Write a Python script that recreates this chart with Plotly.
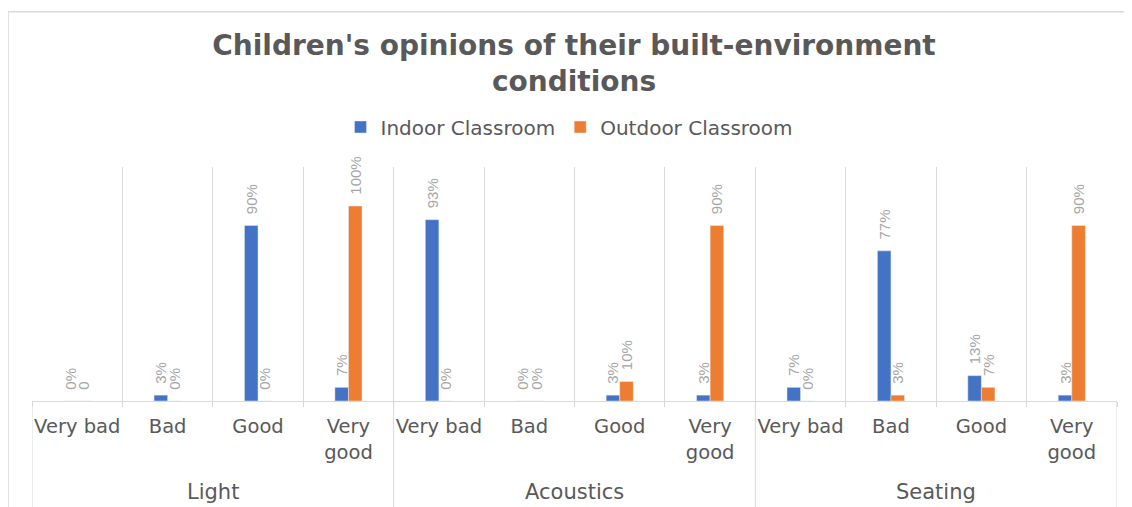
import plotly.graph_objects as go

groups = ["Light"] * 4 + ["Acoustics"] * 4 + ["Seating"] * 4
ratings = ["Very bad", "Bad", "Good", "Very<br>good"] * 3
indoor = [0, 3, 90, 7, 93, 0, 3, 3, 7, 77, 13, 3]
outdoor = [0, 0, 0, 100, 0, 0, 10, 90, 0, 3, 7, 90]
indoor_text = [f"{v}%" for v in indoor]
outdoor_text = ["0"] + [f"{v}%" for v in outdoor[1:]]
group_names = ["Light", "Acoustics", "Seating"]

keys = [f"{g} | {r}" for g, r in zip(groups, ratings)]

FONT = "Liberation Sans, Arial, sans-serif"
WIDE = "DejaVu Sans, Liberation Sans, sans-serif"
PAD = "\u00a0\u00a0"
GRID = "#d9d9d9"

fig = go.Figure()
fig.add_trace(go.Bar(
    name="Indoor Classroom", x=keys, y=[v / 100 for v in indoor],
    text=[PAD + t for t in indoor_text], textposition="outside", textangle=-90,
    constraintext="none", cliponaxis=False,
    textfont=dict(family=FONT, size=15, color="#a6a6a6"),
    marker=dict(color="#4472c4"),
))
fig.add_trace(go.Bar(
    name="Outdoor Classroom", x=keys, y=[v / 100 for v in outdoor],
    text=[PAD + t for t in outdoor_text], textposition="outside", textangle=-90,
    constraintext="none", cliponaxis=False,
    textfont=dict(family=FONT, size=15, color="#a6a6a6"),
    marker=dict(color="#ed7d31"),
))

# screen offset of 8px (page body margin) is compensated in margins
annotations = []
shapes = []
n_per = len(keys) // len(group_names)
for i, g in enumerate(group_names):
    annotations.append(dict(
        x=i * n_per + (n_per - 1) / 2, xref="x", y=(392.7 - 484) / 233.7, yref="paper",
        text=g, showarrow=False, xanchor="center", yanchor="middle",
        font=dict(family=WIDE, size=21, color="#595959"),
    ))
for i in range(len(group_names) + 1):
    xb = i * n_per - 0.5
    shapes.append(dict(
        type="line", xref="x", yref="paper", x0=xb, x1=xb,
        y0=0, y1=(392.7 - 520) / 233.7,
        line=dict(color=GRID, width=1),
    ))
shapes.append(dict(
    type="rect", xref="paper", yref="paper",
    x0=(0 - 24) / 1085, x1=(1140 - 24) / 1085,
    y0=(392.7 - 530) / 233.7, y1=(392.7 - 4) / 233.7,
    line=dict(color=GRID, width=1.5), fillcolor="rgba(0,0,0,0)",
    layer="below",
))

fig.update_layout(
    width=1132, height=507,
    margin=dict(l=24, r=23, t=159, b=114.3, autoexpand=False),
    paper_bgcolor="white", plot_bgcolor="white",
    barmode="group", bargap=0.7, bargroupgap=0,
    font=dict(family=WIDE, color="#595959"),
    title=dict(
        text="Children's opinions of their built-environment<br>conditions",
        x=0.5, xanchor="center", y=1 - 47 / 507, yanchor="top",
        font=dict(family=WIDE, size=28, color="#595959", weight="bold"),
    ),
    legend=dict(
        orientation="h", x=0.4954, xanchor="center", y=1.171, yanchor="middle",
        font=dict(family=WIDE, size=20, color="#595959"),
        itemwidth=30, traceorder="normal",
    ),
    showlegend=True,
    xaxis=dict(
        type="category", automargin=False, tickangle=0,
        tickmode="array", tickvals=keys, ticktext=ratings,
        tickson="boundaries",
        showgrid=True, gridcolor=GRID, gridwidth=1,
        showline=True, linecolor=GRID, linewidth=1,
        ticks="outside", ticklen=5, tickcolor=GRID,
        ticklabelstandoff=8,
        tickfont=dict(family=WIDE, size=19.5, color="#595959"),
        zeroline=False, range=[-0.5, len(keys) - 0.5],
    ),
    yaxis=dict(range=[0, 1.2], visible=False, showgrid=False, zeroline=False,
               automargin=False),
    annotations=annotations,
    shapes=shapes,
)

fig.write_html("out.html")
